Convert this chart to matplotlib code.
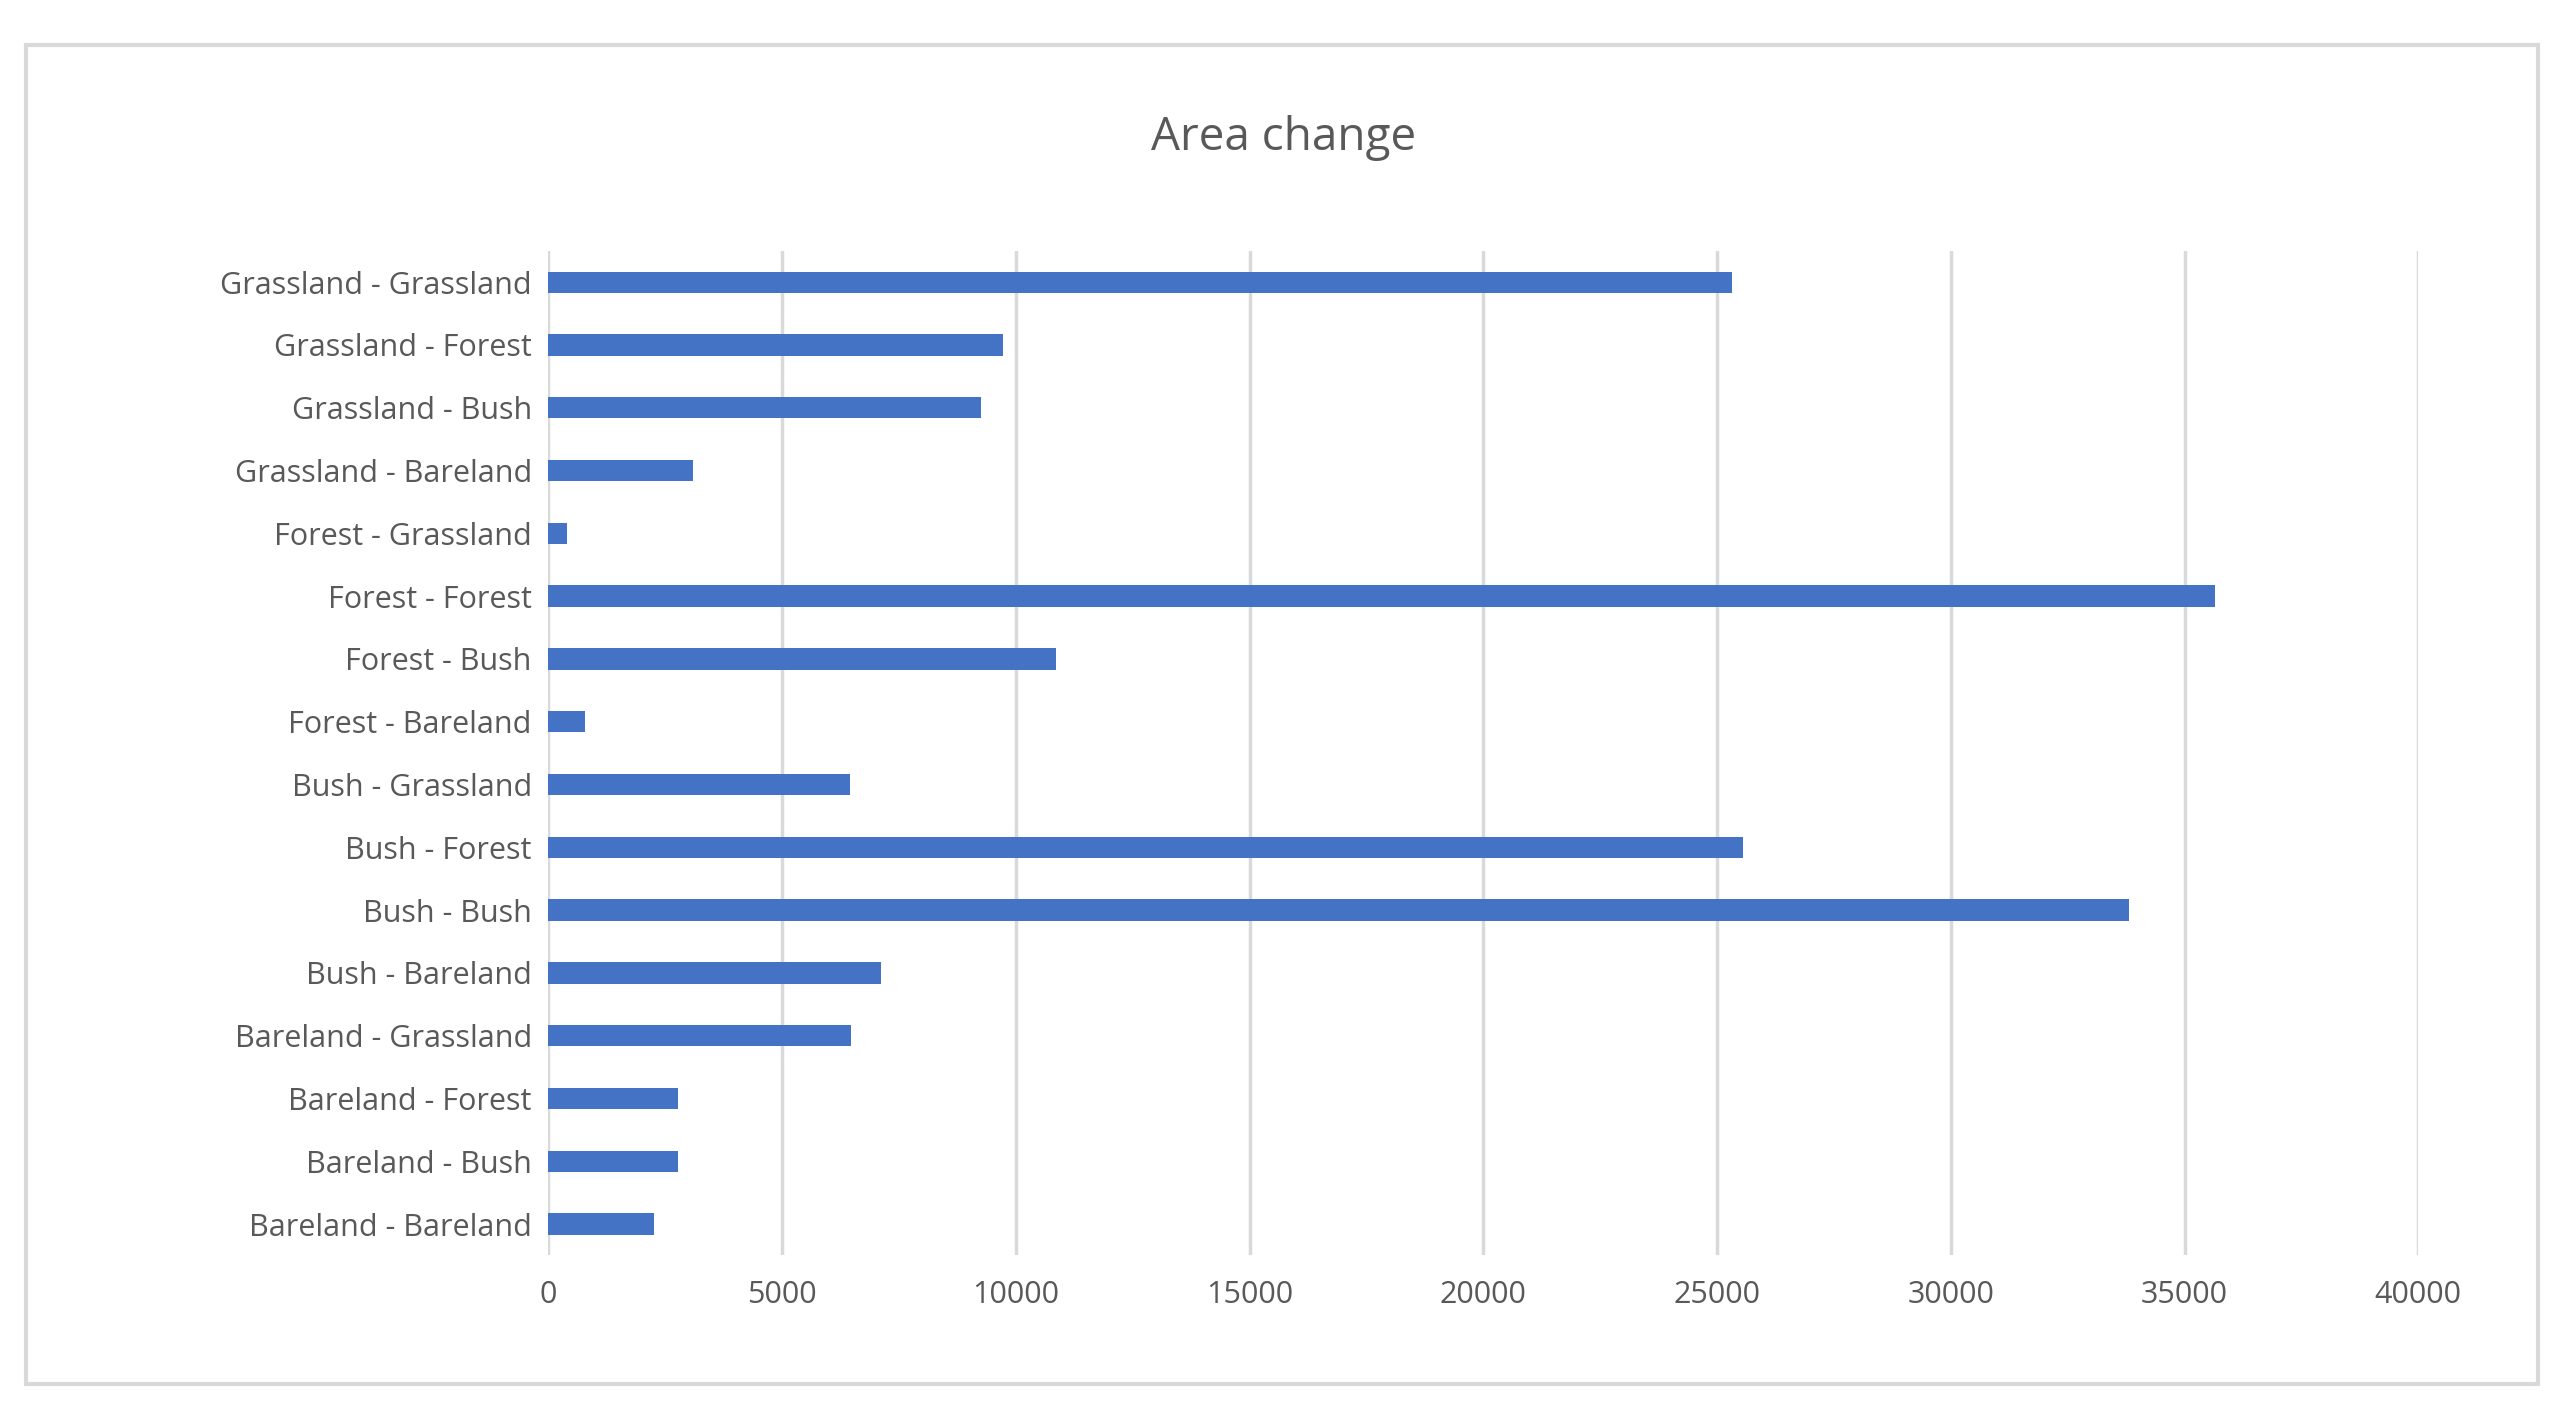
import matplotlib
matplotlib.use('Agg')
from matplotlib import pyplot as plt
from matplotlib.patches import Rectangle

categories = ['Bareland - Bareland', 'Bareland - Bush', 'Bareland - Forest', 'Bareland - Grassland',
              'Bush - Bareland', 'Bush - Bush', 'Bush - Forest', 'Bush - Grassland',
              'Forest - Bareland', 'Forest - Bush', 'Forest - Forest', 'Forest - Grassland',
              'Grassland - Bareland', 'Grassland - Bush', 'Grassland - Forest', 'Grassland - Grassland']
values = [2250, 2780, 2780, 6480,
          7110, 33800, 25560, 6440,
          780, 10850, 35640, 390,
          3100, 9260, 9720, 25320]
xticks = [0, 5000, 10000, 15000, 20000, 25000, 30000, 35000, 40000]

fig = plt.figure(figsize=(25.51, 14.09), dpi=100)
fig.patches.append(Rectangle((0.01, 0.018), 0.985, 0.95, transform=fig.transFigure,
                             fill=False, edgecolor='#d9d9d9', linewidth=3))
ax = fig.add_axes([0.215, 0.109, 0.733, 0.713])
ax.barh(range(len(categories)), values, height=0.34, color='#4472c4', zorder=3)
ax.set_yticks(range(len(categories)))
ax.set_yticklabels(categories)
ax.set_ylim(-0.5, len(categories) - 0.5)
ax.set_xlim(0, 40000)
ax.set_xticks(xticks)
ax.grid(axis='x', color='#d9d9d9', linewidth=2.5, zorder=0)
for s in ax.spines.values():
    s.set_visible(False)
ax.tick_params(length=0, labelsize=22, labelcolor='#595959', pad=12)
ax.tick_params(axis='x', pad=18)
for lab in ax.get_yticklabels() + ax.get_xticklabels():
    lab.set_fontfamily('Open Sans')
fig.text(0.503, 0.902, 'Area change', ha='center', va='center', fontsize=33,
         color='#595959', family='Open Sans')
fig.savefig('out.png')
